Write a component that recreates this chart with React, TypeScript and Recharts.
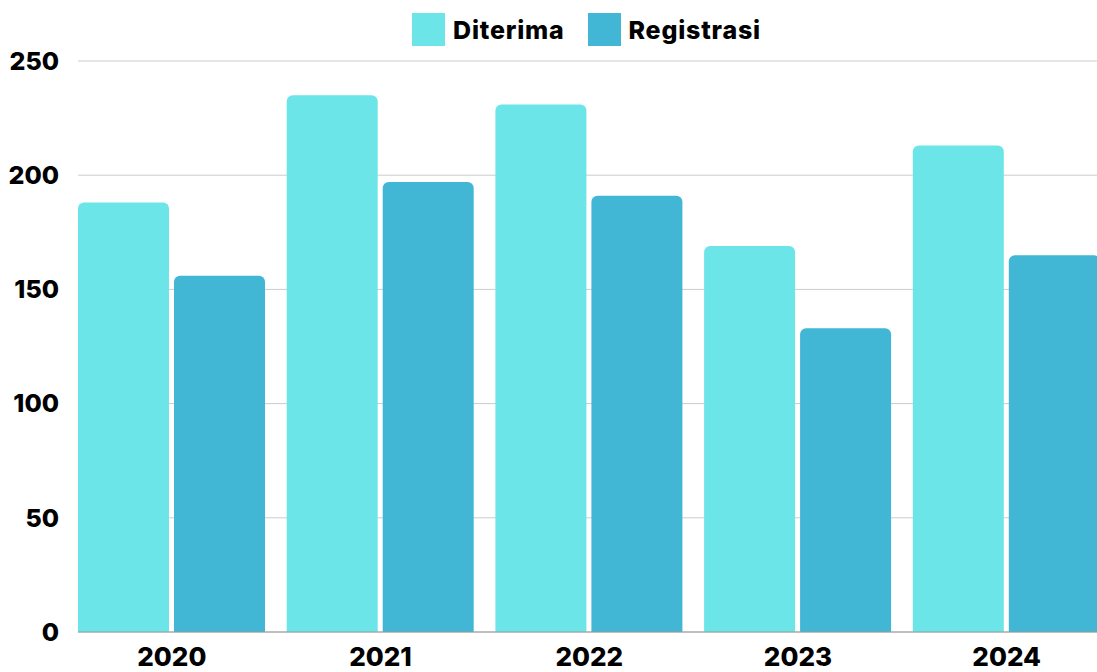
import React from 'react';
import { BarChart, Bar, XAxis, YAxis, CartesianGrid, Legend } from 'recharts';

const years = ['2020', '2021', '2022', '2023', '2024'];
const diterima = [188, 235, 231, 169, 213];
const registrasi = [156, 197, 191, 133, 165];
const yTicks = [0, 50, 100, 150, 200, 250];

const seriesNames = { diterima: 'Diterima', registrasi: 'Registrasi' };
const colors = { diterima: '#6CE5E8', registrasi: '#42B7D5' };

const data = years.map((y, i) => ({ year: y, diterima: diterima[i], registrasi: registrasi[i] }));

const FONT = 'Inter, "Noto Sans", sans-serif';

const LegendContent = (props: any) => {
  const payload = props.payload || [];
  return (
    <div style={{ display: 'flex', justifyContent: 'center', alignItems: 'center', fontFamily: FONT }}>
      {payload.map((p: any, i: number) => (
        <div key={i} style={{ display: 'flex', alignItems: 'center', marginRight: i === payload.length - 1 ? 0 : 23 }}>
          <div style={{ width: 33, height: 33, background: p.color, marginRight: 8 }} />
          <span style={{ fontSize: 25, fontWeight: 800, color: '#000', letterSpacing: 0.8 }}>{p.value}</span>
        </div>
      ))}
    </div>
  );
};

export default function App() {
  return (
    <div style={{ position: 'absolute', left: 0, top: 0, width: 1097, height: 672, overflow: 'hidden', background: '#fff' }}>
      <BarChart
        width={1111}
        height={672}
        data={data}
        margin={{ top: 61, right: 0, bottom: 0, left: 0 }}
        barCategoryGap={10.5}
        barGap={5}
      >
        <CartesianGrid horizontal vertical={false} stroke="#cccccc" />
        <XAxis
          dataKey="year"
          height={40}
          padding={{ left: -10.5, right: 0 }}
          axisLine={{ stroke: '#999999' }}
          tickLine={false}
          tickSize={0}
          tickMargin={16}
          tick={{ fill: '#000', fontSize: 26, fontWeight: 800, fontFamily: FONT }}
        />
        <YAxis
          width={78}
          domain={[0, 250]}
          ticks={yTicks}
          axisLine={false}
          tickLine={false}
          tickSize={0}
          tickMargin={19}
          tick={{ fill: '#000', fontSize: 25, fontWeight: 800, fontFamily: FONT }}
        />
        <Legend
          layout="horizontal"
          verticalAlign="middle"
          align="center"
          wrapperStyle={{ top: 13, left: 0, width: 1173 }}
          content={<LegendContent />}
        />
        <Bar dataKey="diterima" name={seriesNames.diterima} fill={colors.diterima} radius={[6, 6, 0, 0]} isAnimationActive={false} />
        <Bar dataKey="registrasi" name={seriesNames.registrasi} fill={colors.registrasi} radius={[6, 6, 0, 0]} isAnimationActive={false} />
      </BarChart>
    </div>
  );
}
